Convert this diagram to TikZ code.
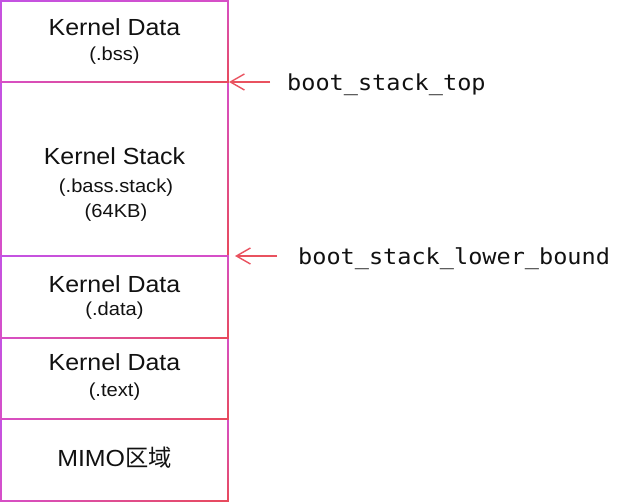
\documentclass[tikz,border=0pt]{standalone}
\usepackage{fontspec}
\setmainfont{Liberation Sans}[FakeStretch=1.07]
\newfontfamily\monof{DejaVu Sans Mono}[FakeStretch=1.07]
\newfontfamily\cjkf{Noto Sans CJK SC}
\usetikzlibrary{arrows.meta,shadings}
\definecolor{cP}{HTML}{C352E3}
\definecolor{cM}{HTML}{D74FC6}
\definecolor{cR}{HTML}{E84A5A}
\definecolor{cA}{HTML}{E9525F}
\definecolor{cT}{HTML}{111111}
\newcommand\gframe[1]{%
  \shade[upper left=cP, upper right=cM, lower left=cM, lower right=cR, even odd rule]
    ([shift={(-0.85,0.85)}]#1.north west) rectangle ([shift={(0.85,-0.85)}]#1.south east)
    ([shift={(0.85,-0.85)}]#1.north west) rectangle ([shift={(-0.85,0.85)}]#1.south east);}
\tikzset{
  boxn/.style={rectangle, minimum width=227pt, inner sep=0pt, outer sep=0pt},
  mainlbl/.style={anchor=base, inner sep=0pt, text=cT, font=\fontsize{23.3}{28}\selectfont},
  sublbl/.style={anchor=base, inner sep=0pt, text=cT, font=\fontsize{18.8}{23}\selectfont},
  ptrlbl/.style={anchor=base west, inner sep=0pt, text=cT, font=\monof\fontsize{22}{26}\selectfont},
  arr/.style={draw=cA, line width=1.4pt, -{Straight Barb[length=14pt,width=16pt]}}
}
\begin{document}
\begin{tikzpicture}[x=1pt,y=1pt]
\useasboundingbox (0,0) rectangle (631,502);
\node[boxn, minimum height=81pt] (b1) at (114.5,460.5) {};
\node[boxn, minimum height=174pt] (b2) at (114.5,333) {};
\node[boxn, minimum height=82pt] (b3) at (114.5,205) {};
\node[boxn, minimum height=81pt] (b4) at (114.5,123.5) {};
\node[boxn, minimum height=82pt] (b5) at (114.5,42) {};
\gframe{b5}
\gframe{b4}
\gframe{b2}
\gframe{b3}
\gframe{b1}
\node[mainlbl] (t1a) at (114.5,466) {Kernel Data};
\node[sublbl] (t1b) at (114.5,441) {(.bss)};
\node[mainlbl] (t2a) at (114.5,337) {Kernel Stack};
\node[sublbl] (t2b) at (116,309.3) {(.bass.stack)};
\node[sublbl] (t2c) at (116,284.7) {(64KB)};
\node[mainlbl] (t3a) at (114.5,209.7) {Kernel Data};
\node[sublbl] (t3b) at (114.5,186) {(.data)};
\node[mainlbl] (t4a) at (114.5,131) {Kernel Data};
\node[sublbl] (t4b) at (114.5,105) {(.text)};
\node[mainlbl] (t5) at (114.5,35) {MIMO{\cjkf 区域}};
\node[ptrlbl] (l1) at (287,411) {boot\_stack\_top};
\node[ptrlbl] (l2) at (298,237.5) {boot\_stack\_lower\_bound};
\draw[arr] ([xshift=-17pt]l1.west |- b1.south east) -- ([xshift=1pt]b1.south east);
\draw[arr] ([xshift=-21pt]l2.west |- b2.south east) -- ([xshift=7pt]b2.south east);
\end{tikzpicture}
\end{document}
